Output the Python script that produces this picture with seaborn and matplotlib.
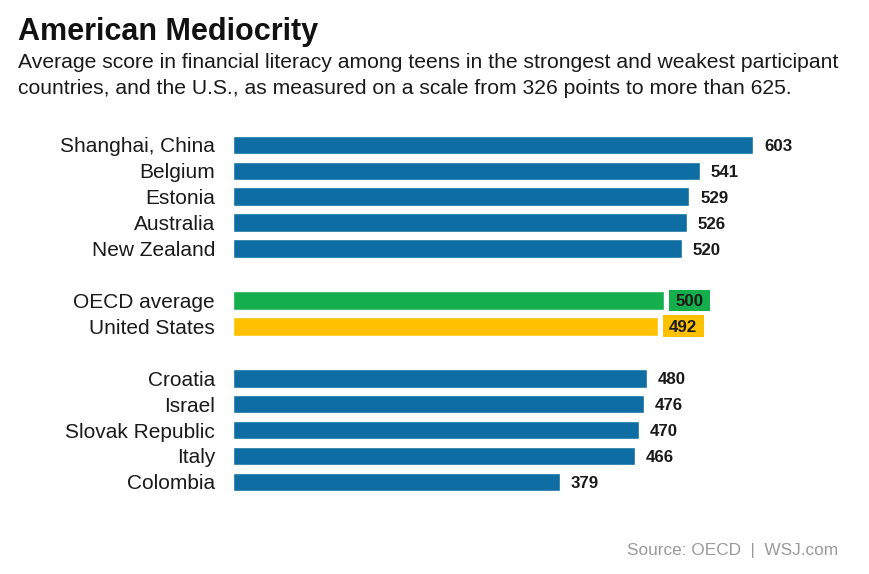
import pandas as pd
import matplotlib.pyplot as plt
import seaborn as sns
from matplotlib.patches import Rectangle

# data
countries = ["Shanghai, China", "Belgium", "Estonia", "Australia", "New Zealand",
             "OECD average", "United States",
             "Croatia", "Israel", "Slovak Republic", "Italy", "Colombia"]
scores = [603, 541, 529, 526, 520, 500, 492, 480, 476, 470, 466, 379]
groups = ["top"] * 5 + ["oecd", "us"] + ["bottom"] * 5
# rows, with an empty row between the three groups
rows = [0, 1, 2, 3, 4, 6, 7, 9, 10, 11, 12, 13]

colors = {"top": "#0e6ea3", "bottom": "#0e6ea3", "oecd": "#14ae4c", "us": "#fdc100"}

df = pd.DataFrame({"country": countries, "score": scores, "group": groups, "row": rows})

sns.set_theme(style="white")
plt.rcParams["font.family"] = ["Liberation Sans", "DejaVu Sans"]

fig = plt.figure(figsize=(8.7, 5.74), dpi=100)
ax = fig.add_axes([0.268, 0.1334, 0.689, 0.6412])

sns.barplot(data=df, x="score", y="row", hue="group", palette=colors,
            orient="h", native_scale=True, width=0.72, legend=False,
            saturation=1, ax=ax)

ax.set_xlim(0, 695)
ax.set_ylim(13.6, -0.6)
ax.set_yticks(df["row"])
ax.set_yticklabels(df["country"], fontsize=15, color="#1a1a1a")
ax.tick_params(axis="y", length=0, pad=13)
ax.set_xticks([])
ax.set_xlabel("")
ax.set_ylabel("")
sns.despine(ax=ax, left=True, bottom=True)

# pixels -> data units along x (axis is 599 px wide)
px = 695 / (0.689 * 870)
for _, r in df.iterrows():
    if r["group"] in ("oecd", "us"):
        x0 = r["score"] + 5 * px
        w = 41 * px
        ax.add_patch(Rectangle((x0, r["row"] - 0.42), w, 0.84,
                               color=colors[r["group"]], lw=0))
        ax.text(x0 + w / 2, r["row"], str(r["score"]), ha="center",
                va="center_baseline", fontsize=12.2, fontweight="bold",
                color="#1a1a1a")
    else:
        ax.text(r["score"] + 11 * px, r["row"], str(r["score"]), ha="left",
                va="center_baseline", fontsize=12.2, fontweight="bold",
                color="#1a1a1a")

fig.text(0.021, 0.931, "American Mediocrity", fontsize=22, fontweight="bold",
         color="#111111", va="baseline")
fig.text(0.021, 0.881,
         "Average score in financial literacy among teens in the strongest and weakest participant",
         fontsize=15.2, color="#1a1a1a", va="baseline")
fig.text(0.021, 0.836,
         "countries, and the U.S., as measured on a scale from 326 points to more than 625.",
         fontsize=15.2, color="#1a1a1a", va="baseline")
fig.text(0.963, 0.033, "Source: OECD  |  WSJ.com", fontsize=12.4, color="#9a9a9a",
         ha="right", va="baseline")

fig.savefig("out.png", dpi=100)
